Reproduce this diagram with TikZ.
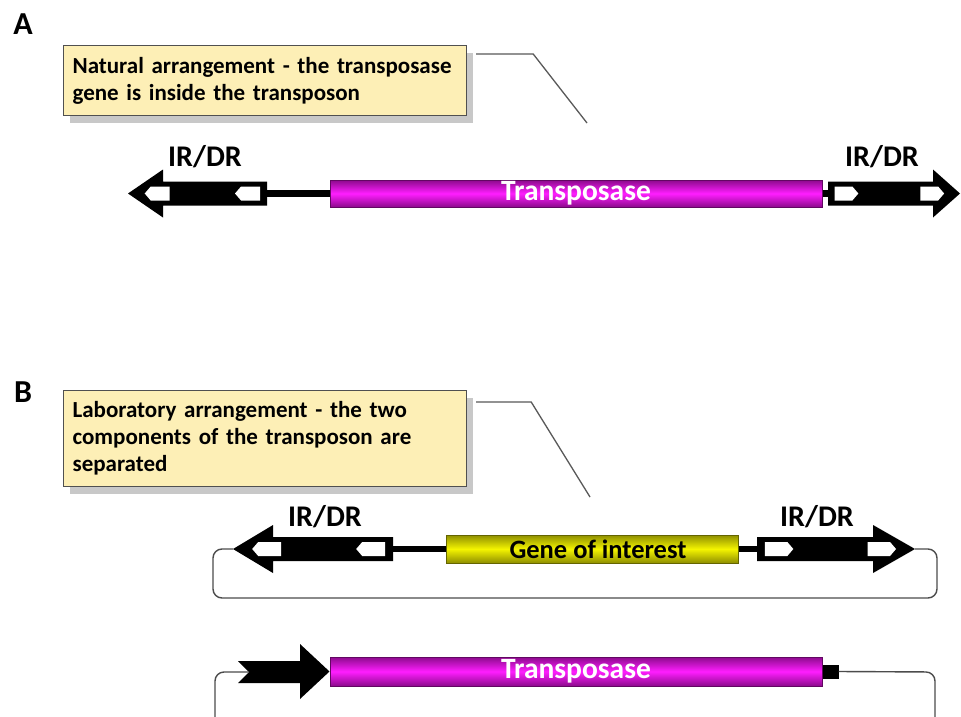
\documentclass[tikz,border=0pt]{standalone}
\usepackage{fontspec}
\setmainfont{Carlito}
\usetikzlibrary{shadows,calc,positioning}

\definecolor{notefill}{HTML}{FDEFB6}
\definecolor{noteborder}{HTML}{505050}
\definecolor{magdark}{HTML}{8C0A8C}
\definecolor{magbright}{HTML}{FF1EFF}
\definecolor{yeldark}{HTML}{8F8F00}
\definecolor{yelbright}{HTML}{F4F400}

% white box inside an IR/DR element: from x=#1 to the point at x=#2, centred on y=#3
\newcommand{\pentbox}[3]{%
  \fill[white] ({#1},{#3-7}) -- ({#2-6*\irdir},{#3-7}) -- ({#2},{#3})
    -- ({#2-6*\irdir},{#3+7}) -- ({#1},{#3+7}) -- cycle;
}
% IR/DR element: name, tail x, head base x, tip x, y
\newcommand{\irelement}[5]{%
  \pgfmathsetmacro\irdir{(#4-#2)/abs(#4-#2)}%
  \pgfmathsetmacro\irlen{abs(#4-#2)}%
  \coordinate (#1) at (#2,#5);
  \coordinate (#1-tip) at (#4,#5);
  \fill[black] (#2,{#5-12}) -- (#3,{#5-12}) -- (#3,{#5-24}) -- (#4,#5)
    -- (#3,{#5+24}) -- (#3,{#5+12}) -- (#2,{#5+12}) -- cycle;
  \pentbox{#2+\irdir*0.05*\irlen}{#2+\irdir*0.23*\irlen}{#5}
  \pentbox{#4-\irdir*0.30*\irlen}{#4-\irdir*0.12*\irlen}{#5}
}

\tikzset{
  note/.style={draw=noteborder, line width=1.2, fill=notefill, anchor=north west,
    align=left, text width=385, minimum width=403, inner xsep=9, inner ysep=5,
    font=\bfseries\fontsize{23}{27}\selectfont,
    drop shadow={shadow xshift=6, shadow yshift=7, opacity=0.3, fill=black!70}},
  callout/.style={draw=black!65, line width=1.3},
  panel/.style={font=\bfseries\fontsize{32}{32}\selectfont, anchor=center},
  irlabel/.style={font=\bfseries\fontsize{30}{30}\selectfont, anchor=center},
  gene/.style={draw=#1dark!70!black, line width=1, minimum height=27,
    top color=#1dark, bottom color=#1dark, middle color=#1bright,
    inner sep=0, font=\bfseries\fontsize{29.5}{29.5}\selectfont},
  link/.style={draw=black, line width=6.5},
  loopline/.style={draw=black!70, line width=1.4, rounded corners=9},
}

\begin{document}
\begin{tikzpicture}[x=1pt, y=-1pt]
\clip (0,0) rectangle (961,717);
\fill[white] (0,0) rectangle (961,717);

% ---- panel A ----
\node[panel] (labA) at (23,24) {A};
\node[note, minimum height=70] (noteA) at (63,45)
  {Natural arrangement - the transposase\\gene is inside the transposon};
\coordinate (pinA) at (587,123);
\draw[callout] ($(noteA.north east)+(9,9)$) -- ++(57,0) -- (pinA);

\node[gene=mag, text=white, minimum width=492] (tnpA) at (576,193.5) {Transposase};
\irelement{irAl}{267}{163}{128}{193.5}
\irelement{irAr}{828}{933}{960}{193.5}
\draw[link] (irAl) -- (tnpA.west);
\draw[link] (tnpA.east) -- (irAr);
\node[irlabel] (lblAl) at (205,157) {IR/DR};
\node[irlabel] (lblAr) at (882,157) {IR/DR};

% ---- panel B ----
\node[panel] (labB) at (23,392) {B};
\node[note, minimum height=96] (noteB) at (63,390)
  {Laboratory arrangement - the two\\components of the transposon are\\separated};
\coordinate (pinB) at (590,497);
\draw[callout] ($(noteB.north east)+(9,12)$) -- ++(55,0) -- (pinB);

% transposon with the gene of interest
\node[gene=yel, text=black, minimum width=292, minimum height=28,
  font=\bfseries\fontsize{26.5}{26.5}\selectfont] (goi) at (592,549) {\hspace*{12pt}Gene of interest};
\irelement{irBl}{393}{273}{233}{549}
\irelement{irBr}{757}{873}{915}{549}
\draw[link] (irBl) -- (goi.west);
\draw[link] (goi.east) -- (irBr);
\node[irlabel] (lblBl) at (325,517) {IR/DR};
\node[irlabel] (lblBr) at (817,517) {IR/DR};
\draw[loopline] (irBr-tip) -- (937,549) -- (937,598) -- (213,598) -- (213,549) -- (irBl-tip);

% transposase on its own
\node[gene=mag, text=white, minimum width=492, minimum height=29] (tnpB) at (576,671.5) {Transposase};
\fill[black] (238,661) -- (300,661) -- (300,644) -- (tnpB.west) -- (300,699)
  -- (300,683) -- (238,683) -- (249,672) -- cycle;
\coordinate (promB) at (249,672);
\fill[black] (tnpB.east) ++(0,-7) rectangle ++(16,14);
\coordinate (termB) at ($(tnpB.east)+(16,0)$);
\draw[loopline] (promB) -- (215,672) -- (215,740);
\draw[loopline] (termB) -- (935,672) -- (935,740);
\end{tikzpicture}
\end{document}
